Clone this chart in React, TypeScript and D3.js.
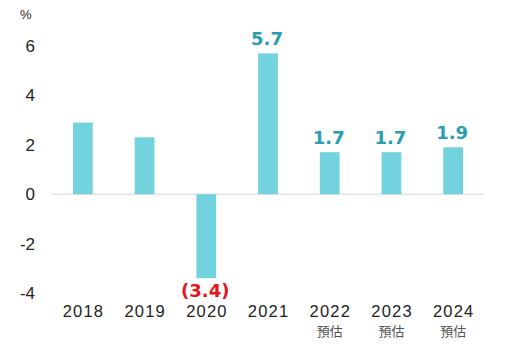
import React from "react";
import * as d3 from "d3";

const years = ["2018", "2019", "2020", "2021", "2022", "2023", "2024"];
const values = [2.9, 2.3, -3.4, 5.7, 1.7, 1.7, 1.9];
const valueLabels = ["", "", "(3.4)", "5.7", "1.7", "1.7", "1.9"];
const subLabels = ["", "", "", "", "預估", "預估", "預估"];
const yTicks = [6, 4, 2, 0, -2, -4];

const W = 512;
const H = 347;

export default function App() {
  const x = d3.scaleBand<string>().domain(years).range([52, 484]).paddingInner(0.68).paddingOuter(0.34);
  const y = d3.scaleLinear().domain([-4, 6]).range([293, 46]);
  const font = "Arial, 'Liberation Sans', sans-serif";
  const boldFont = "'DejaVu Sans', Verdana, sans-serif";
  return (
    <svg width={W} height={H} style={{ position: "absolute", left: 0, top: 0, background: "#fff" }}>
      <text x={20} y={19} fontFamily={font} fontSize={13} fill="#222">%</text>
      {yTicks.map((t) => (
        <text key={t} x={35} y={y(t) + 6} textAnchor="end" fontFamily={font} fontSize={17} fill="#222">
          {t}
        </text>
      ))}
      <line x1={51} x2={484} y1={y(0)} y2={y(0)} stroke="#e3e3e3" strokeWidth={1.5} />
      {years.map((yr, i) => {
        const v = values[i];
        const bx = x(yr)!;
        const bw = x.bandwidth();
        const top = Math.min(y(v), y(0));
        const h = Math.abs(y(v) - y(0));
        const cx = bx + bw / 2;
        return (
          <g key={yr}>
            <rect x={bx} y={top} width={bw} height={h} fill="#72d3df" />
            {valueLabels[i] && (
              <text
                x={cx - 1}
                y={v >= 0 ? y(v) - 8 : y(v) + 19}
                textAnchor="middle"
                fontFamily={boldFont}
                fontWeight="bold"
                fontSize={18}
                fill={v >= 0 ? "#2a9eae" : "#e8141c"}
              >
                {valueLabels[i]}
              </text>
            )}
            <text x={cx + 0.6} y={317} textAnchor="middle" fontFamily={font} fontSize={16.5} letterSpacing={1.2} fill="#222">
              {yr}
            </text>
            {subLabels[i] && (
              <text x={cx} y={336} textAnchor="middle" fontFamily="'Noto Sans CJK TC', sans-serif" fontSize={13} fill="#555">
                {subLabels[i]}
              </text>
            )}
          </g>
        );
      })}
    </svg>
  );
}
